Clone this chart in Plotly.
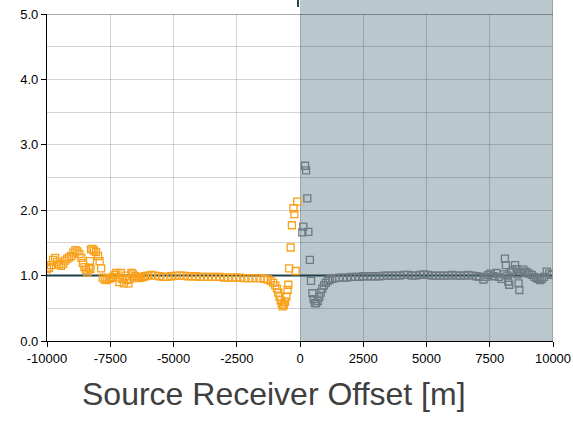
import plotly.graph_objects as go

# Negative offsets (orange series)
neg_offset = [
    -10000, -9920, -9840, -9760, -9680, -9600, -9520, -9440, -9360, -9280,
    -9200, -9120, -9040, -8960, -8880, -8800, -8720, -8640, -8580, -8520,
    -8460, -8400, -8340, -8300, -8280, -8260, -8200, -8140, -8060, -7980,
    -7920, -7860, -7800, -7720, -7640, -7560, -7480, -7400, -7320, -7260,
    -7200, -7140, -7080, -7020, -6960, -6900, -6840, -6780, -6720, -6660,
    -6600, -6520, -6440, -6360, -6280, -6200, -6120, -6040, -5880, -5720,
    -5560, -5400, -5240, -5080, -4920, -4760, -4600, -4440, -4280, -4120,
    -3960, -3800, -3640, -3480, -3320, -3160, -3000, -2840, -2680, -2520,
    -2360, -2200, -2040, -1880, -1720, -1560, -1400, -1280, -1160, -1060,
    -980, -910, -860, -810, -760, -720, -680, -640, -590, -540,
    -490, -460, -430, -370, -320, -260, -220, -170, -110,
]
neg_ratio = [
    1.10, 1.12, 1.16, 1.24, 1.27, 1.21, 1.17, 1.15, 1.18, 1.23,
    1.26, 1.28, 1.30, 1.35, 1.39, 1.37, 1.33, 1.27, 1.19, 1.13,
    1.09, 1.05, 1.12, 1.22, 1.10, 1.40, 1.41, 1.38, 1.36, 1.30,
    1.22, 1.11, 0.97, 0.94, 0.93, 0.95, 0.96, 0.98, 1.01, 1.04,
    0.97, 0.90, 1.04, 0.95, 0.88, 1.00, 0.93, 0.88, 0.95, 1.04,
    1.02, 0.99, 0.97, 0.96, 0.97, 0.98, 0.99, 1.00, 1.01, 1.00,
    0.99, 0.98, 0.98, 0.99, 1.00, 1.00, 1.00, 0.99, 0.99, 0.99,
    0.98, 0.98, 0.98, 0.98, 0.98, 0.98, 0.97, 0.97, 0.97, 0.97,
    0.97, 0.96, 0.96, 0.96, 0.96, 0.96, 0.95, 0.94, 0.92, 0.89,
    0.85, 0.80, 0.74, 0.68, 0.62, 0.57, 0.53, 0.55, 0.60, 0.68,
    0.78, 0.86, 1.11, 1.43, 1.77, 2.03, 1.94, 1.07, 2.13,
]

# Positive offsets (grey series)
pos_offset = [
    90, 130, 200, 240, 290, 330, 390, 435, 490, 540,
    590, 640, 700, 760, 820, 880, 950, 1020, 1100, 1180,
    1280, 1400, 1540, 1700, 1860, 2020, 2180, 2340, 2500, 2660,
    2820, 2980, 3140, 3300, 3460, 3620, 3780, 3940, 4100, 4260,
    4420, 4580, 4740, 4900, 5060, 5220, 5380, 5540, 5700, 5860,
    6020, 6180, 6340, 6500, 6660, 6820, 6980, 7100, 7250, 7330,
    7440, 7540, 7640, 7770, 7860, 7970, 8050, 8100, 8140, 8200,
    8230, 8270, 8330, 8400, 8500, 8560, 8600, 8640, 8670, 8740,
    8830, 8900, 8960, 9050, 9160, 9260, 9350, 9420, 9490, 9560,
    9640, 9750, 9850, 9950,
]
pos_ratio = [
    1.66, 1.75, 2.68, 2.61, 2.18, 1.67, 1.24, 0.92, 0.73, 0.64,
    0.58, 0.58, 0.61, 0.67, 0.74, 0.80, 0.85, 0.89, 0.92, 0.94,
    0.95, 0.96, 0.97, 0.97, 0.97, 0.98, 0.98, 0.98, 0.99, 0.99,
    0.99, 0.99, 0.99, 1.00, 1.00, 1.00, 1.00, 1.00, 1.01, 1.01,
    1.00, 1.00, 1.01, 1.02, 1.01, 1.00, 1.00, 1.00, 1.00, 1.00,
    1.01, 1.00, 1.00, 1.00, 1.01, 1.00, 0.99, 0.98, 0.94, 0.98,
    1.01, 1.03, 0.99, 1.04, 0.98, 0.95, 1.02, 1.26, 1.16, 1.00,
    0.91, 0.86, 1.05, 1.08, 1.16, 1.10, 1.02, 0.88, 0.78, 1.04,
    1.09, 1.06, 1.05, 1.03, 1.01, 0.98, 0.96, 0.95, 0.93, 0.95,
    0.98, 1.06, 1.03, 1.01,
]

x_ticks = [-10000, -7500, -5000, -2500, 0, 2500, 5000, 7500, 10000]
ref_x = [-10000, 10000]
ref_y = [1.0, 1.0]

orange = "#F9A11B"
grey_marker = "#6E7B80"
shade = "rgb(186,200,205)"
top_extent = 1 + 14 / 327

fig = go.Figure()

# unit reference line
fig.add_trace(go.Scatter(
    x=ref_x, y=ref_y, mode="lines",
    line=dict(color="#1C3F4A", width=2), hoverinfo="skip",
))
fig.add_trace(go.Scatter(
    x=neg_offset, y=neg_ratio, mode="markers",
    marker=dict(symbol="square-open", size=7, color=orange,
                line=dict(width=1.3, color=orange)),
))
fig.add_trace(go.Scatter(
    x=pos_offset, y=pos_ratio, mode="markers",
    marker=dict(symbol="square-open", size=7, color=grey_marker,
                line=dict(width=1.3, color=grey_marker)),
))

shapes = [
    # shaded positive-offset half
    dict(type="rect", xref="x", yref="paper", x0=0, x1=10000,
         y0=0, y1=top_extent, fillcolor=shade, line=dict(width=0),
         layer="below"),
    dict(type="line", xref="x", yref="paper", x0=10000, x1=10000,
         y0=0, y1=top_extent, line=dict(color="#8A989D", width=1.5),
         layer="above"),
    # top border at y = 5
    dict(type="line", xref="paper", yref="y", x0=0, x1=1, y0=5, y1=5,
         line=dict(color="rgba(0,0,0,0.45)", width=1.5), layer="above"),
    dict(type="line", xref="x", yref="paper", x0=-80, x1=-80,
         y0=1 + 7 / 327, y1=top_extent,
         line=dict(color="#1D4A55", width=2), layer="above"),
]

fig.update_layout(
    width=573, height=432,
    margin=dict(l=47, r=20, t=14, b=91, autoexpand=False),
    paper_bgcolor="white", plot_bgcolor="rgba(0,0,0,0)",
    showlegend=False,
    shapes=shapes,
    font=dict(family="Liberation Sans, Arial, sans-serif", size=13,
              color="#000000"),
    annotations=[dict(
        text="Source Receiver Offset [m]", xref="paper", yref="paper",
        x=(273.5 - 47) / 506, y=(341 - 394) / 327,
        xanchor="center", yanchor="middle", showarrow=False,
        font=dict(size=32, color="#404040"),
    )],
    xaxis=dict(
        range=[-10000, 10000], tickvals=x_ticks,
        ticktext=[str(v) for v in x_ticks], automargin=False,
        showgrid=True, gridcolor="rgba(0,0,0,0.17)", gridwidth=1.2,
        zeroline=False, showline=True, linecolor="black", linewidth=1.2,
        ticks="outside", ticklen=5, tickcolor="black",
    ),
    yaxis=dict(
        range=[0, 5], dtick=1, tickformat=".1f", automargin=False,
        showgrid=True, gridcolor="rgba(0,0,0,0.17)", gridwidth=1.2,
        minor=dict(dtick=0.5, showgrid=True,
                   gridcolor="rgba(0,0,0,0.17)", gridwidth=1.2),
        zeroline=False, showline=True, linecolor="black", linewidth=1.2,
        ticks="outside", ticklen=5, tickcolor="black",
    ),
)

fig.write_html("out.html")
